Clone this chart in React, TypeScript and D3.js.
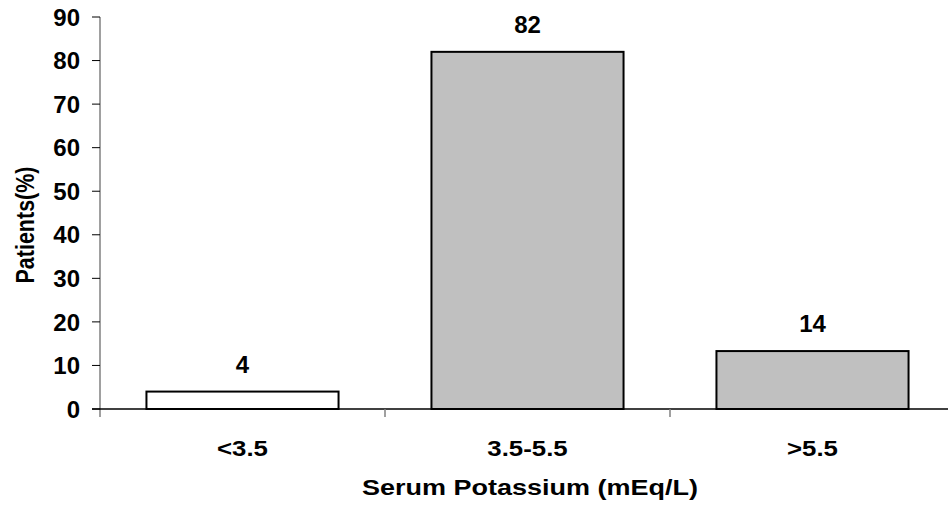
import React, { useEffect, useRef } from 'react';
import * as d3 from 'd3';

const categories = ['<3.5', '3.5-5.5', '>5.5'];
const barValues = [4, 82, 13.3];
const barLabels = ['4', '82', '14'];
const barFills = ['#ffffff', '#c0c0c0', '#c0c0c0'];
const yTicks = [0, 10, 20, 30, 40, 50, 60, 70, 80, 90];
const xTitle = 'Serum Potassium (mEq/L)';
const yTitle = 'Patients(%)';

const W = 948;
const H = 510;
const FONT = '"Liberation Sans", Arial, sans-serif';

const App: React.FC = () => {
  const svgRef = useRef<SVGSVGElement>(null);

  useEffect(() => {
    document.body.style.margin = '0';
    if (!svgRef.current) return;
    const svg = d3.select(svgRef.current);
    svg.selectAll('*').remove();

    const x = d3.scaleBand<string>()
      .domain(categories)
      .range([100, 955])
      .paddingInner(0.326)
      .paddingOuter(0.163);
    const y = d3.scaleLinear().domain([0, 90]).range([409, 17]);

    // y axis line, runs a bit below the baseline
    svg.append('line')
      .attr('x1', 100).attr('x2', 100)
      .attr('y1', y(90)).attr('y2', y(0) + 8)
      .attr('stroke', '#808080').attr('stroke-width', 1.5);

    // y ticks
    const yt = svg.append('g');
    yt.selectAll('line')
      .data(yTicks)
      .enter()
      .append('line')
      .attr('x1', 92).attr('x2', 100)
      .attr('y1', d => y(d)).attr('y2', d => y(d))
      .attr('stroke', '#000').attr('stroke-width', 1);
    yt.selectAll('text')
      .data(yTicks)
      .enter()
      .append('text')
      .attr('x', 80)
      .attr('y', d => y(d))
      .attr('dy', '0.36em')
      .attr('text-anchor', 'end')
      .attr('font-family', FONT)
      .attr('font-weight', 'bold')
      .attr('font-size', 24)
      .text(d => d);

    // bars
    svg.selectAll('.bar')
      .data(categories)
      .enter()
      .append('rect')
      .attr('x', d => x(d)!)
      .attr('y', (d, i) => y(barValues[i]))
      .attr('width', x.bandwidth())
      .attr('height', (d, i) => y(0) - y(barValues[i]))
      .attr('fill', (d, i) => barFills[i])
      .attr('stroke', '#000')
      .attr('stroke-width', 2);

    // baseline
    svg.append('line')
      .attr('x1', 92).attr('x2', W)
      .attr('y1', y(0)).attr('y2', y(0))
      .attr('stroke', '#000').attr('stroke-width', 1.5);

    // category ticks between bands
    const bounds = categories.slice(1).map(c => x(c)! - x.step() * x.paddingInner() / 2);
    svg.selectAll('.ctick')
      .data(bounds)
      .enter()
      .append('line')
      .attr('x1', d => d).attr('x2', d => d)
      .attr('y1', y(0)).attr('y2', y(0) + 8)
      .attr('stroke', '#808080').attr('stroke-width', 1.5);

    // data labels
    svg.selectAll('.lbl')
      .data(categories)
      .enter()
      .append('text')
      .attr('x', d => x(d)! + x.bandwidth() / 2)
      .attr('y', (d, i) => y(barValues[i]) - 19)
      .attr('text-anchor', 'middle')
      .attr('font-family', FONT)
      .attr('font-weight', 'bold')
      .attr('font-size', 24)
      .text((d, i) => barLabels[i]);

    // category labels (a little wider than normal)
    svg.selectAll('.cat')
      .data(categories)
      .enter()
      .append('text')
      .attr('transform', d => `translate(${x(d)! + x.bandwidth() / 2},456) scale(1.2,1)`)
      .attr('text-anchor', 'middle')
      .attr('font-family', FONT)
      .attr('font-weight', 'bold')
      .attr('font-size', 21.5)
      .text(d => d);

    // axis titles
    svg.append('text')
      .attr('transform', `translate(530,495) scale(1.2,1)`)
      .attr('text-anchor', 'middle')
      .attr('font-family', FONT)
      .attr('font-weight', 'bold')
      .attr('font-size', 22.5)
      .text(xTitle);

    svg.append('text')
      .attr('transform', `translate(34,225) scale(1.2,1) rotate(-90)`)
      .attr('text-anchor', 'middle')
      .attr('font-family', FONT)
      .attr('font-weight', 'bold')
      .attr('font-size', 21.5)
      .text(yTitle);
  }, []);

  return <svg ref={svgRef} width={W} height={H} style={{ display: 'block', background: '#fff' }} />;
};

export default App;
